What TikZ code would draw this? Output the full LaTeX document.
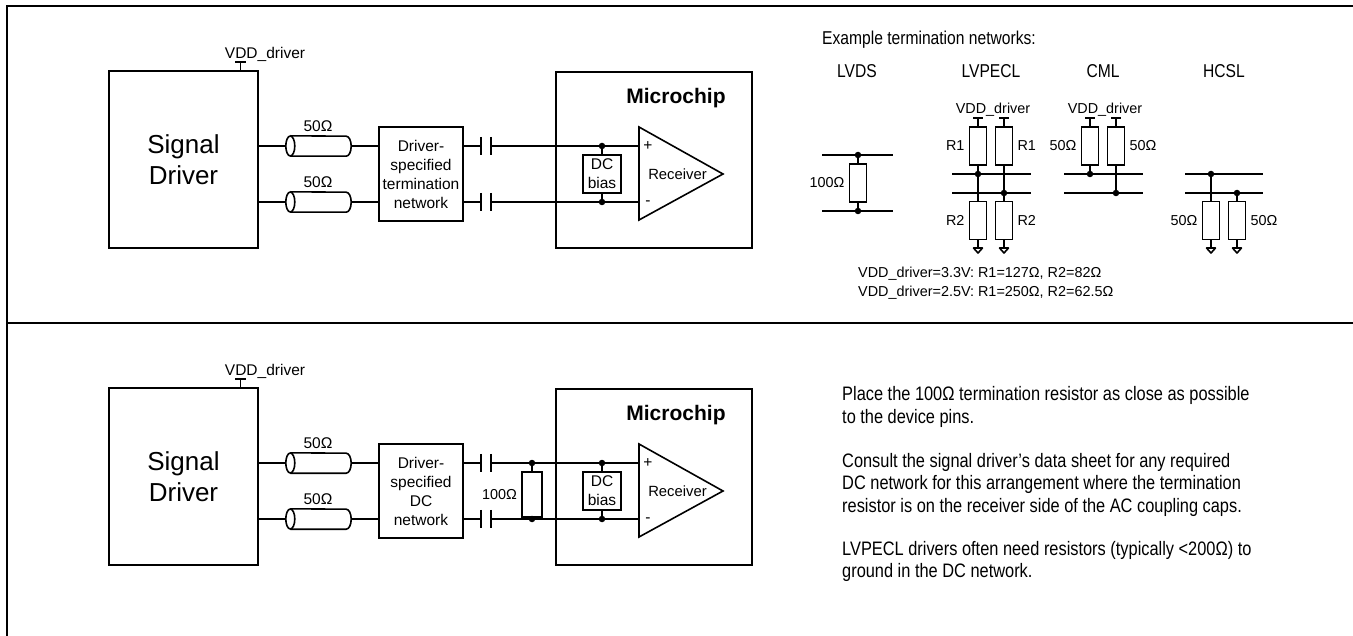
\documentclass[tikz,border=0pt]{standalone}
\usepackage{fontspec}
\setmainfont{Liberation Sans}
\newfontfamily\narrowfont{Liberation Sans}[FakeStretch=0.84]
\usetikzlibrary{positioning}
\tikzstyle{wire}=[line width=1.6pt]
\tikzstyle{box}=[rectangle,draw,line width=1.6pt,inner sep=0,align=center,font=\fontsize{15.5}{19}\selectfont]
\tikzstyle{res}=[rectangle,draw,line width=1.6pt,inner sep=0,minimum width=17pt,minimum height=38pt]
\tikzstyle{junc}=[circle,fill,inner sep=0,minimum size=6.5pt]
\tikzstyle{lbl}=[inner sep=0,font=\fontsize{15.5}{19}\selectfont]
\tikzstyle{rlbl}=[inner sep=0,font=\fontsize{14.4}{17}\selectfont]
\tikzstyle{hdr}=[inner sep=0,font=\narrowfont\fontsize{18.6}{22}\selectfont]
\tikzstyle{note}=[inner sep=0,align=left,font=\narrowfont\fontsize{19.5}{22.5}\selectfont]
\tikzstyle{capnode}=[rectangle,inner sep=0,minimum width=10pt,minimum height=18pt]
\tikzstyle{cable}=[rectangle,inner sep=0,minimum width=65pt,minimum height=20pt]

\begin{document}
\begin{tikzpicture}[x=1pt,y=-1pt]
\useasboundingbox (0,0) rectangle (1353,636);
\draw[line width=2.6pt] (7,636) -- (7,6) -- (1353,6);
\draw[line width=2.6pt] (7,323) -- (1353,323);

% the two driver-to-receiver paths
\foreach \s/\dy/\nettext in {A/0/termination,B/317/DC}{
\begin{scope}[shift={(0,\dy)}]
\node[box,minimum width=149pt,minimum height=177pt,font=\fontsize{26}{31}\selectfont] (drv\s) at (183.5,159.5) {Signal\\Driver};
\coordinate (vdd\s) at (240.5,62);
\draw[wire] (vdd\s) -- (vdd\s |- drv\s.north);
\draw[wire] ([xshift=-5.5pt]vdd\s) -- ([xshift=5.5pt]vdd\s);
\node[lbl,anchor=base] (vddlbl\s) at (265,58.3) {VDD\_driver};
\node[cable] (cbl\s1) at (318.5,146) {};
\node[cable] (cbl\s2) at (318.5,202) {};
\node[lbl,anchor=base] (zlbl\s1) at (318,131.7) {50Ω};
\node[lbl,anchor=base] (zlbl\s2) at (318,187.7) {50Ω};
\node[box,minimum width=84pt,minimum height=94pt] (net\s) at (421,174) {Driver-\\specified\\\nettext\\network};
\node[capnode] (cap\s1) at (486,146) {};
\node[capnode] (cap\s2) at (486,202) {};
\node[box,minimum width=196pt,minimum height=176pt] (chip\s) at (654,160) {};
\node[inner sep=0,font=\bfseries\fontsize{21}{25}\selectfont,anchor=base] (chiplbl\s) at (676,103.3) {Microchip};
\node[box,minimum width=38pt,minimum height=38pt] (bias\s) at (602,174) {DC\\bias};
\node[junc] (dot\s1) at (602,146) {};
\node[junc] (dot\s2) at (602,202) {};
\draw[wire] (639,127) -- (723,174) -- (639,220) -- cycle;
\coordinate (inp\s1) at (639,146);
\coordinate (inp\s2) at (639,202);
\node[inner sep=0,font=\fontsize{14.8}{17}\selectfont] (rxlbl\s) at (677.5,174) {Receiver};
\node[lbl] (plus\s) at (648,146) {+};
\node[lbl] (minus\s) at (648,203) {-};
\foreach \k in {1,2}{
	\draw[wire] (drv\s.east |- cbl\s\k.west) -- (cbl\s\k.west);
	\draw[wire] ([xshift=4.5pt]cbl\s\k.south west) -- ([xshift=-5pt]cbl\s\k.south east)
		arc[start angle=-90,end angle=90,x radius=5pt,y radius=10pt] -- ([xshift=4.5pt]cbl\s\k.north west);
	\draw[wire] ([xshift=4.5pt]cbl\s\k.west) ellipse[x radius=4.5pt,y radius=10pt];
	\draw[wire] (cbl\s\k.east) -- (cbl\s\k.east -| net\s.west);
	\draw[wire] (net\s.east |- cap\s\k.west) -- (cap\s\k.west);
	\draw[wire] (cap\s\k.north west) -- (cap\s\k.south west) (cap\s\k.north east) -- (cap\s\k.south east);
	\draw[wire] (cap\s\k.east) -- (inp\s\k);}
\draw[wire] (dot\s1) -- (bias\s) -- (dot\s2);
\end{scope}}

\node[res,minimum width=20pt,minimum height=45pt] (termR) at (532,494.5) {};
\node[junc] (termJ1) at (532,463) {};
\node[junc] (termJ2) at (532,519) {};
\draw[wire] (termJ1) -- (termR) -- (termJ2);
\node[rlbl,left=4pt of termR] (termlbl) {100Ω};

% example networks
\node[hdr,anchor=base west] (extitle) at (822,45) {Example termination networks:};
\node[hdr,anchor=base] (hLVDS) at (857,77.5) {LVDS};
\node[hdr,anchor=base] (hLVPECL) at (991,77.5) {LVPECL};
\node[hdr,anchor=base] (hCML) at (1103,77.5) {CML};
\node[hdr,anchor=base] (hHCSL) at (1224,77.5) {HCSL};

\coordinate (lvT1) at (822,155); \coordinate (lvT2) at (893,155);
\coordinate (lvB1) at (822,211); \coordinate (lvB2) at (893,211);
\draw[wire] (lvT1) -- (lvT2) (lvB1) -- (lvB2);
\node[res] (lvR) at (858,183) {};
\node[junc] (lvJ1) at (858,155) {};
\node[junc] (lvJ2) at (858,211) {};
\draw[wire] (lvJ1) -- (lvR) -- (lvJ2);
\node[rlbl,left=4pt of lvR] (lvlbl) {100Ω};

\foreach \n/\xa/\xb in {p/952/1031,c/1064/1143,h/1185/1263}{
	\coordinate (\n P1) at (\xa,174); \coordinate (\n P2) at (\xb,174);
	\coordinate (\n N1) at (\xa,193); \coordinate (\n N2) at (\xb,193);
	\draw[wire] (\n P1) -- (\n P2) (\n N1) -- (\n N2);}

\foreach \k/\xx in {1/978,2/1004}{
	\node[res] (pRa\k) at (\xx,146) {};
	\node[res] (pRb\k) at (\xx,220.5) {};
	\coordinate (pV\k) at (\xx,118);
	\coordinate (pG\k) at (\xx,248);
	\draw[wire] (pV\k) -- (pRa\k) (pRa\k) -- (pRb\k) (pRb\k) -- (pG\k);}
\node[junc] (pJ1) at (978,174) {};
\node[junc] (pJ2) at (1004,193) {};
\node[rlbl,left=4pt of pRa1] (pla1) {R1};
\node[rlbl,right=4pt of pRa2] (pla2) {R1};
\node[rlbl,left=4pt of pRb1] (plb1) {R2};
\node[rlbl,right=4pt of pRb2] (plb2) {R2};
\node[rlbl,anchor=base] (pvdd) at (993,113.3) {VDD\_driver};

\node[res] (cR1) at (1090,146) {};
\node[res] (cR2) at (1116,146) {};
\node[junc] (cJ1) at (1090,174) {};
\node[junc] (cJ2) at (1116,193) {};
\coordinate (cV1) at (1090,118);
\coordinate (cV2) at (1116,118);
\draw[wire] (cV1) -- (cR1) -- (cJ1) (cV2) -- (cR2) -- (cJ2);
\node[rlbl,left=4pt of cR1] (cl1) {50Ω};
\node[rlbl,right=4pt of cR2] (cl2) {50Ω};
\node[rlbl,anchor=base] (cvdd) at (1105,113.3) {VDD\_driver};

\node[res] (hR1) at (1211,220.5) {};
\node[res] (hR2) at (1237,220.5) {};
\node[junc] (hJ1) at (1211,174) {};
\node[junc] (hJ2) at (1237,193) {};
\coordinate (hG1) at (1211,248);
\coordinate (hG2) at (1237,248);
\draw[wire] (hJ1) -- (hR1) -- (hG1) (hJ2) -- (hR2) -- (hG2);
\node[rlbl,left=4pt of hR1] (hl1) {50Ω};
\node[rlbl,right=4pt of hR2] (hl2) {50Ω};

\foreach \v in {pV1,pV2,cV1,cV2}{
	\draw[wire] ([xshift=-5pt]\v) -- ([xshift=5pt]\v);}
\foreach \g in {pG1,pG2,hG1,hG2}{
	\draw[wire,line join=round] (\g) ++(-4.5,0) -- ++(9,0) -- ++(-4.5,5) -- cycle;}

\node[rlbl,anchor=base west] (vnote1) at (858,277.5) {VDD\_driver=3.3V: R1=127Ω, R2=82Ω};
\node[rlbl,anchor=base west] (vnote2) at (858,296.5) {VDD\_driver=2.5V: R1=250Ω, R2=62.5Ω};

% notes for the second arrangement (base = last line)
\node[note,anchor=base west] (noteA) at (842,423.5) {Place the 100Ω termination resistor as close as possible\\to the device pins.};
\node[note,anchor=base west] (noteB) at (842,512) {Consult the signal driver’s data sheet for any required\\DC network for this arrangement where the termination\\resistor is on the receiver side of the AC coupling caps.};
\node[note,anchor=base west] (noteC) at (842,577.5) {LVPECL drivers often need resistors (typically <200Ω) to\\ground in the DC network.};
\end{tikzpicture}
\end{document}
